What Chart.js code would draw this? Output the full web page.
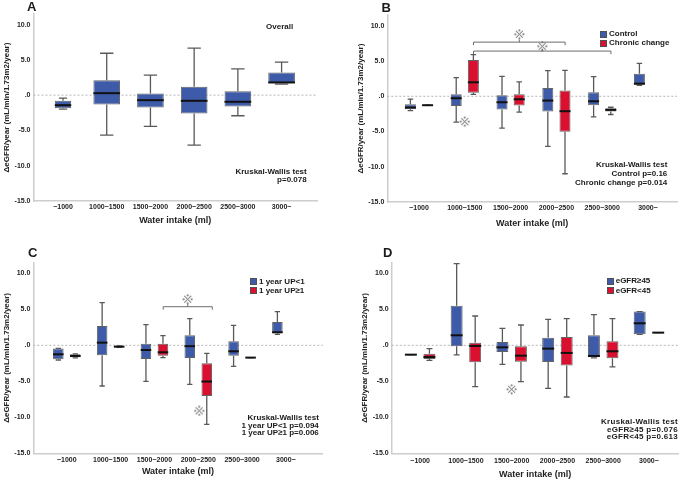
<!DOCTYPE html>
<html lang="en">
<head>
<meta charset="UTF-8">
<title>Water intake and eGFR change</title>
<script src="https://cdn.jsdelivr.net/npm/chart.js@4.4.1/dist/chart.umd.min.js"></script>
<style>
  body { margin: 0; background: #fff; font-family: "Liberation Sans", Arial, sans-serif; }
  #page { position: relative; width: 685px; height: 481px; overflow: hidden; background: #fff; }
  .panel { position: absolute; }
  .panel canvas { display: block; }
  .txt { position: absolute; font-weight: bold; color: #1a1a1a; white-space: nowrap; }
  .letter { font-size: 13px; line-height: 13px; }
  .note { font-size: 8px; text-align: right; width: 100px; }
  .legend { font-size: 8px; }
  .legend div { display: flex; align-items: center; }
  .legend i { display: inline-block; box-sizing: border-box; width: 7px; height: 7px; border: 1px solid #505050; margin-right: 2px; }
</style>
</head>
<body>
<div id="page">
  <div class="panel" style="left:0;top:0"><canvas id="cA" width="342" height="240"></canvas></div>
  <div class="panel" style="left:342px;top:0"><canvas id="cB" width="343" height="240"></canvas></div>
  <div class="panel" style="left:0;top:240px"><canvas id="cC" width="342" height="241"></canvas></div>
  <div class="panel" style="left:342px;top:240px"><canvas id="cD" width="343" height="241"></canvas></div>

  <div class="txt letter" style="left:27px;top:-0.5px">A</div>
  <div class="txt letter" style="left:381.5px;top:1px">B</div>
  <div class="txt letter" style="left:28px;top:245.5px">C</div>
  <div class="txt letter" style="left:383px;top:245.5px">D</div>

  <div class="txt note" style="left:239.7px;top:21.5px;width:80px;text-align:center">Overall</div>

  <div class="txt note" style="left:206.7px;top:168px;line-height:8px">Kruskal-Wallis test<br>p=0.078</div>
  <div class="txt note" style="left:567.3px;top:161.4px;line-height:8.65px">Kruskal-Wallis test<br>Control p=0.16<br>Chronic change p=0.014</div>
  <div class="txt note" style="left:218.8px;top:414px;line-height:7.5px">Kruskal-Wallis test<br>1 year UP&lt;1 p=0.094<br>1 year UP≥1 p=0.006</div>
  <div class="txt note" style="left:578px;top:417.8px;line-height:7.8px;letter-spacing:0.3px">Kruskal-Wallis test<br>eGFR≥45 p=0.076<br>eGFR&lt;45 p=0.613</div>

  <div class="txt legend" style="left:600px;top:30.2px;line-height:8.7px">
    <div><i style="background:#3d5ba9"></i>Control</div>
    <div><i style="background:#d9102f"></i>Chronic change</div>
  </div>
  <div class="txt legend" style="left:250px;top:277.2px;line-height:9px">
    <div><i style="background:#3d5ba9"></i>1 year UP&lt;1</div>
    <div><i style="background:#d9102f"></i>1 year UP≥1</div>
  </div>
  <div class="txt legend" style="left:606.7px;top:276.4px;line-height:9.5px">
    <div><i style="background:#3d5ba9"></i>eGFR≥45</div>
    <div><i style="background:#d9102f"></i>eGFR&lt;45</div>
  </div>
</div>

<script>
const categories = ['~1000', '1000~1500', '1500~2000', '2000~2500', '2500~3000', '3000~'];
const yTicks = [-15, -10, -5, 0, 5, 10];

// [min, Q1, median, Q3, max] for each water intake group, null = no patients
const overall = [
  [-1.98, -1.84, -1.42, -0.80, -0.42],
  [-5.66, -1.32, 0.28, 2.12, 5.94],
  [-4.43, -1.75, -0.71, 0.24, 2.83],
  [-7.08, -2.59, -0.80, 1.18, 6.65],
  [-2.92, -1.60, -0.94, 0.57, 3.73],
  [1.56, 1.68, 1.80, 3.20, 4.67]
];
const control = [
  [-2.03, -1.84, -1.60, -1.13, -0.42],
  [-3.66, -1.37, -0.28, 0.30, 2.64],
  [-4.53, -1.89, -0.85, 0.14, 2.83],
  [-7.12, -2.17, -0.61, 1.18, 3.63],
  [-2.92, -1.27, -0.71, 0.57, 2.78],
  [1.56, 1.65, 1.79, 3.20, 4.67]
];
const chronicChange = [
  [-1.27, -1.27, -1.27, -1.27, -1.27],
  [0.28, 0.50, 1.98, 5.16, 5.90],
  [-2.26, -1.32, -0.42, 0.28, 2.03],
  [-10.99, -5.05, -2.12, 0.80, 3.68],
  [-2.59, -2.17, -1.93, -1.70, -1.56],
  null
];
const upUnder1 = [
  [-2.04, -1.94, -1.25, -0.45, -0.42],
  [-5.65, -1.39, 0.37, 2.69, 5.93],
  [-5.00, -1.90, -0.65, 0.23, 2.87],
  [-5.44, -1.75, -0.12, 1.39, 3.70],
  [-2.92, -1.44, -0.83, 0.56, 2.78],
  [1.53, 1.67, 1.81, 3.24, 4.68]
];
const upOver1 = [
  [-1.76, -1.67, -1.48, -1.25, -1.20],
  [-0.28, -0.28, -0.19, -0.10, -0.10],
  [-1.71, -1.44, -0.97, 0.23, 1.34],
  [-10.97, -7.04, -5.03, -2.50, -1.11],
  [-1.71, -1.71, -1.71, -1.71, -1.71],
  null
];
const egfrOver45 = [
  [-1.30, -1.30, -1.30, -1.30, -1.30],
  [-1.34, -0.14, 1.39, 5.50, 11.34],
  [-2.64, -0.93, -0.28, 0.46, 2.36],
  [-5.97, -2.31, -0.46, 1.06, 3.61],
  [-1.76, -1.67, -1.48, 1.39, 4.26],
  [1.53, 1.53, 3.06, 4.68, 4.68]
];
const egfrUnder45 = [
  [-2.08, -1.90, -1.62, -1.16, -0.46],
  [-5.74, -2.36, -0.09, 0.37, 4.07],
  [-5.05, -2.27, -1.44, -0.14, 2.82],
  [-7.18, -2.82, -1.06, 1.16, 3.70],
  [-3.01, -1.81, -0.83, 0.56, 3.70],
  [1.76, 1.76, 1.76, 1.76, 1.76]
];

// outliers (※), x is the position on the category axis
const outliersB = [{x: 1, y: -3.6}];
const outliersC = [{x: 3.02, y: -9.1}];
const outliersD = [{x: 2, y: -6.1}];

// significance brackets, mark = height of the ※ above them
const bracketsB = [{from: 1.19, to: 3.19, y: 7.68, mark: 8.8}, {from: 1.19, to: 4.19, y: 6.41, mark: 7.1}];
const bracketsC = [{from: 2.2, to: 3.32, y: 5.36, mark: 6.4}];

const BLUE = '#3d5ba9';
const RED = '#d9102f';
const AXIS = '#cdcdcd';

Chart.defaults.font.family = '"Liberation Sans", Arial, sans-serif';
Chart.defaults.font.weight = 'bold';
Chart.defaults.color = '#222';

// small ※ drawn once, used as point style
function refMark() {
  const c = document.createElement('canvas');
  c.width = 11; c.height = 11;
  const g = c.getContext('2d');
  g.strokeStyle = '#555'; g.fillStyle = '#555'; g.lineWidth = 1;
  g.beginPath();
  g.moveTo(2, 2); g.lineTo(9, 9);
  g.moveTo(9, 2); g.lineTo(2, 9);
  g.stroke();
  [[5.5, 1.5], [5.5, 9.5], [1.5, 5.5], [9.5, 5.5]].forEach(p => g.fillRect(p[0] - 0.8, p[1] - 0.8, 1.6, 1.6));
  return c;
}
const MARK = refMark();

function boxSet(stats, color, catPct, barPct, keep) {
  return {
    type: 'bar',
    stats: stats,
    data: stats.map((s, i) => (s && (!keep || keep(i))) ? {x: i, y: [s[1], s[3]]} : null).filter(Boolean),
    backgroundColor: color,
    borderColor: 'rgba(70,70,70,0.85)',
    borderWidth: 1,
    borderSkipped: false,
    categoryPercentage: catPct,
    barPercentage: barPct
  };
}

function markSet(points) {
  return {type: 'scatter', data: points, pointStyle: MARK, pointRadius: 5.5, pointHoverRadius: 5.5};
}

function boxPlugin(brackets) {
  return {
    id: 'boxes',
    beforeDatasetsDraw(chart) {
      const {ctx, chartArea: a, scales: {y}} = chart;
      const y0 = y.getPixelForValue(0);
      ctx.save();
      ctx.strokeStyle = '#b5b5b5';
      ctx.lineWidth = 1;
      ctx.setLineDash([2, 2]);
      ctx.beginPath();
      ctx.moveTo(a.left, y0);
      ctx.lineTo(a.right, y0);
      ctx.stroke();
      ctx.restore();
    },
    afterDatasetsDraw(chart) {
      const {ctx, scales: {x, y}} = chart;
      const py = v => y.getPixelForValue(v);
      ctx.save();
      chart.data.datasets.forEach((ds, di) => {
        if (!ds.stats) return;
        chart.getDatasetMeta(di).data.forEach((bar, j) => {
          const s = ds.stats[ds.data[j].x];
          const cx = bar.x, half = bar.width / 2, cap = bar.width / 4;
          ctx.strokeStyle = '#595959';
          ctx.lineWidth = 1.3;
          ctx.beginPath();
          ctx.moveTo(cx, py(s[3])); ctx.lineTo(cx, py(s[4]));
          ctx.moveTo(cx - cap, py(s[4])); ctx.lineTo(cx + cap, py(s[4]));
          ctx.moveTo(cx, py(s[1])); ctx.lineTo(cx, py(s[0]));
          ctx.moveTo(cx - cap, py(s[0])); ctx.lineTo(cx + cap, py(s[0]));
          ctx.stroke();
          ctx.strokeStyle = '#111';
          ctx.lineWidth = 2;
          ctx.beginPath();
          ctx.moveTo(cx - half, py(s[2])); ctx.lineTo(cx + half, py(s[2]));
          ctx.stroke();
        });
      });
      // brackets between compared groups
      ctx.strokeStyle = '#6b6b6b';
      ctx.lineWidth = 1;
      brackets.forEach(b => {
        const x1 = x.getPixelForValue(b.from), x2 = x.getPixelForValue(b.to), yy = py(b.y);
        const xm = (x1 + x2) / 2;
        ctx.beginPath();
        ctx.moveTo(x1, yy + 3); ctx.lineTo(x1, yy); ctx.lineTo(x2, yy); ctx.lineTo(x2, yy + 3);
        ctx.moveTo(xm, yy); ctx.lineTo(xm, yy - 2.5);
        ctx.stroke();
      });
      ctx.restore();
    }
  };
}

function panelChart(id, cfg) {
  const marks = cfg.outliers.concat(cfg.brackets.map(b => ({x: (b.from + b.to) / 2, y: b.mark})));
  return new Chart(document.getElementById(id), {
    type: 'bar',
    data: {datasets: cfg.sets.concat(marks.length ? [markSet(marks)] : [])},
    options: {
      responsive: false,
      animation: false,
      devicePixelRatio: 1,
      layout: {padding: cfg.pad},
      plugins: {legend: {display: false}, tooltip: {enabled: false}},
      scales: {
        x: {
          type: 'linear',
          offset: false,
          min: cfg.xMin,
          max: cfg.xMax,
          grid: {display: false, drawTicks: false},
          border: {display: true, color: AXIS, width: 1.5},
          afterBuildTicks: ax => { ax.ticks = categories.map((c, i) => ({value: i})); },
          afterFit: ax => { ax.height = cfg.xH; },
          ticks: {autoSkip: false, maxRotation: 0, padding: cfg.tickPad, font: {size: 7}, callback: v => categories[v]},
          title: {display: true, text: 'Water intake (ml)', font: {size: 9}, padding: {top: 0, bottom: cfg.titlePad}}
        },
        y: {
          type: 'linear',
          min: -15,
          max: 11.5,
          grid: {display: false, drawTicks: false},
          border: {display: true, color: AXIS, width: 1.5},
          afterBuildTicks: ax => { ax.ticks = yTicks.map(v => ({value: v})); },
          afterFit: ax => { ax.width = cfg.yW; },
          ticks: {padding: 3, font: {size: 7}, callback: v => Number(v).toFixed(1).replace(/^0/, '')},
          title: {display: true, text: 'ΔeGFR/year (mL/min/1.73m2/year)', font: {size: 8}, padding: {top: 2, bottom: 0}}
        }
      }
    },
    plugins: [boxPlugin(cfg.brackets)]
  });
}

panelChart('cA', {
  sets: [
    Object.assign(boxSet(overall, BLUE, 1, 0.375, i => i === 0), {grouped: false}),
    Object.assign(boxSet(overall, BLUE, 1, 0.61, i => i > 0), {grouped: false})
  ],
  outliers: [], brackets: [],
  pad: {left: 0, right: 25, top: 14, bottom: 0},
  yW: 33.5, xH: 39, xMin: -0.675, xMax: 5.81, tickPad: 2, titlePad: 13.9
});

panelChart('cB', {
  sets: [boxSet(control, BLUE, 0.75, 0.64), boxSet(chronicChange, RED, 0.75, 0.64)],
  outliers: outliersB, brackets: bracketsB,
  pad: {left: 12, right: 8, top: 15.2, bottom: 0},
  yW: 33.3, xH: 38, xMin: -0.692, xMax: 5.633, tickPad: 2, titlePad: 11.3
});

panelChart('cC', {
  sets: [boxSet(upUnder1, BLUE, 0.776, 0.62), boxSet(upOver1, RED, 0.776, 0.62)],
  outliers: outliersC, brackets: bracketsC,
  pad: {left: 0, right: 19.3, top: 22.5, bottom: 0},
  yW: 33.3, xH: 27.7, xMin: -0.765, xMax: 5.84, tickPad: 3, titlePad: 3.9
});

panelChart('cD', {
  sets: [boxSet(egfrOver45, BLUE, 0.81, 0.645), boxSet(egfrUnder45, RED, 0.81, 0.645)],
  outliers: outliersD, brackets: [],
  pad: {left: 16, right: 5, top: 22.5, bottom: 0},
  yW: 33.7, xH: 27.7, xMin: -0.622, xMax: 5.646, tickPad: 3.5, titlePad: 0.6
});
</script>
</body>
</html>
